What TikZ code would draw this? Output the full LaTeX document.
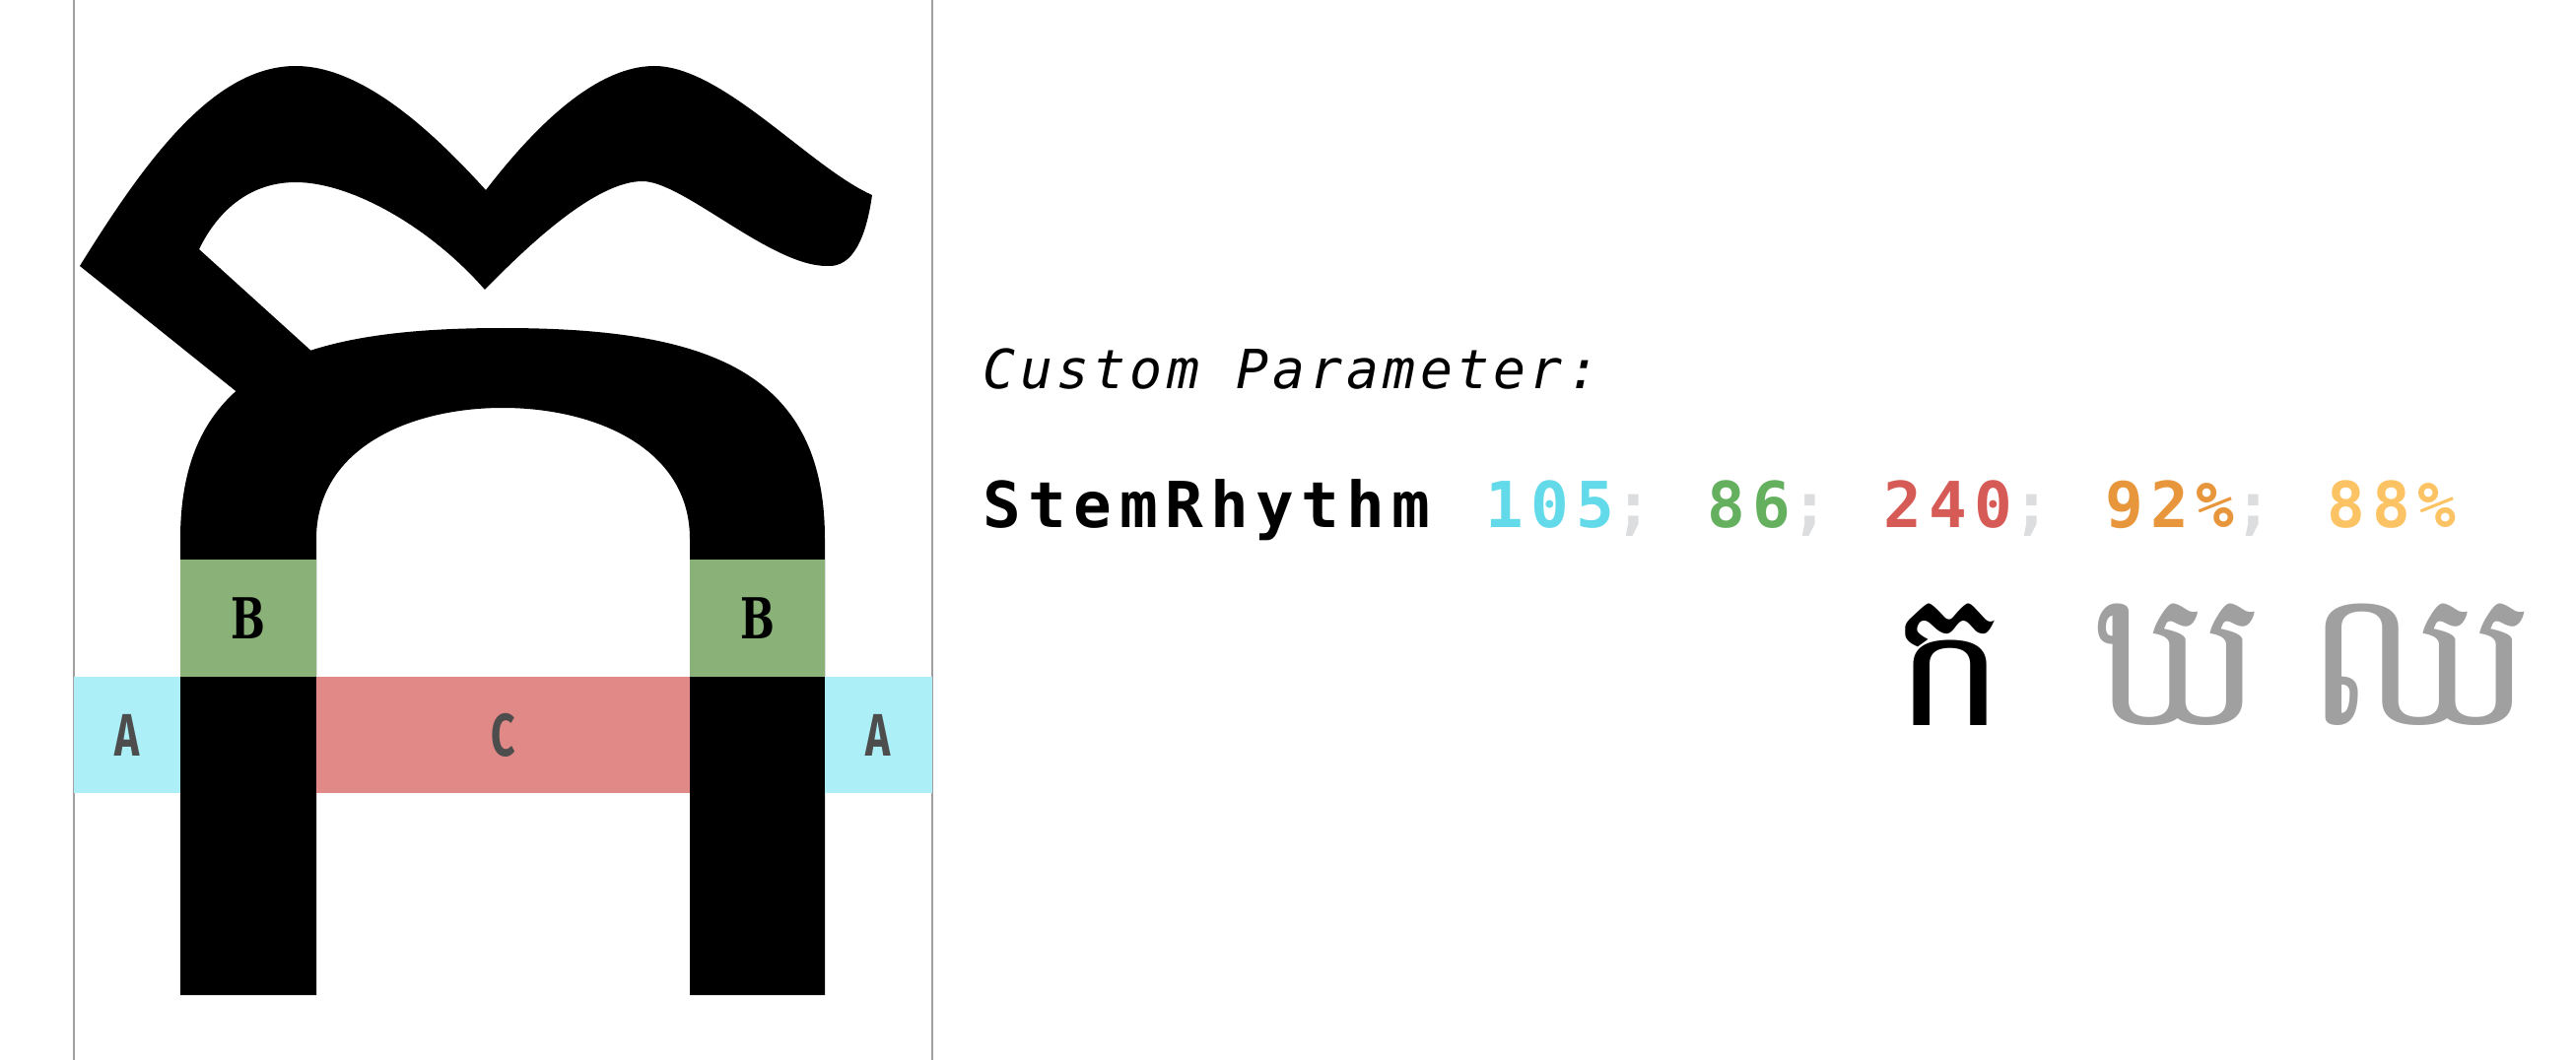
\documentclass[tikz,border=0pt]{standalone}
\usepackage{fontspec}
\newfontfamily\paramfont[LetterSpace=7.8]{DejaVu Sans Mono}
\newfontfamily\valuefont[LetterSpace=11.5,WordSpace={1.2,0,0}]{DejaVu Sans Mono}
\newfontfamily\khmerfont[Script=Khmer]{Battambang}
\newfontfamily\lblsans{Fira Sans}
\newfontfamily\lblslab{DejaVu Serif}
\definecolor{guidegray}{HTML}{A0A0A0}
\definecolor{boxA}{HTML}{ADEFF7}
\definecolor{boxB}{HTML}{8AB178}
\definecolor{boxC}{HTML}{E18987}
\definecolor{lblgray}{HTML}{4D4D4D}
\definecolor{valA}{HTML}{62DAEA}
\definecolor{valB}{HTML}{64B05F}
\definecolor{valC}{HTML}{D65A55}
\definecolor{valD}{HTML}{E8963C}
\definecolor{valE}{HTML}{FCC364}
\definecolor{semigray}{HTML}{DCDDDF}
\newcommand{\sansletter}[1]{\scalebox{0.7}[1]{\lblsans\bfseries\fontsize{17.3}{17}\selectfont #1}}
\newcommand{\slabletter}[1]{\scalebox{0.72}[1]{\lblslab\bfseries\fontsize{16.3}{17}\selectfont #1}}
\newcommand{\semi}{\textcolor{semigray}{;}}
\tikzset{
  guide/.style={guidegray, line width=0.7pt},
  lbl/.style={inner sep=0pt},
  txt/.style={anchor=base west, inner sep=0pt},
  khmer/.style={anchor=base, inner sep=0pt, font=\khmerfont\fontsize{55}{57}\selectfont},
}
\begin{document}
\begin{tikzpicture}[x=0.01cm,y=-0.01cm]
        \useasboundingbox (0,0) rectangle (2614,1076);
        \draw[guide] (75,0) -- (75,1076);
        \draw[guide] (946,0) -- (946,1076);
        \fill (183,1010) -- (183,547) .. controls (183,375) and (305,333) .. (510,333)
              .. controls (715,333) and (837,375) .. (837,547) -- (837,1010) -- (700,1010)
              -- (700,547) .. controls (700,455) and (604,414) .. (510,414)
              .. controls (416,414) and (321,455) .. (321,547) -- (321,1010) -- cycle;
        \fill (319,359) -- (202,253) .. controls (223,210) and (257,185) .. (300,185)
              .. controls (356,185) and (436,230) .. (492,294)
              .. controls (535,250) and (604,184) .. (652,184)
              .. controls (693,184) and (782,270) .. (839,270)
              .. controls (866,272) and (879,240) .. (885,198)
              .. controls (822,170) and (733,67) .. (664,67)
              .. controls (609,67) and (549,120) .. (493,193)
              .. controls (436,130) and (366,67) .. (300,67)
              .. controls (218,67) and (149,160) .. (81,270)
              -- (243,400) -- (297,430) -- cycle;
        \fill[boxB] (183,568) rectangle (321,687);
        \fill[boxB] (700,568) rectangle (837,687);
        \fill[boxA] (75,687) rectangle (183,805);
        \fill[boxA] (837,687) rectangle (946,805);
        \fill[boxC] (321,687) rectangle (700,805);
        \node[lbl] (leftB) at (252,627.5) {\slabletter{B}};
        \node[lbl] (rightB) at (768.5,627.5) {\slabletter{B}};
        \node[lbl, text=lblgray] (leftA) at (129,746) {\sansletter{A}};
        \node[lbl, text=lblgray] (rightA) at (891.5,746) {\sansletter{A}};
        \node[lbl, text=lblgray] (midC) at (510.5,746) {\sansletter{C}};
        \node[txt] (param) at (997,395) {\paramfont\itshape\fontsize{15.6}{18}\selectfont Custom Parameter:};
        \node[txt] (values) at (997,535) {\valuefont\bfseries\fontsize{18.3}{22}\selectfont StemRhythm
              \textcolor{valA}{105}\semi{} \textcolor{valB}{86}\semi{} \textcolor{valC}{240}\semi{}
              \textcolor{valD}{92\%}\semi{} \textcolor{valE}{88\%}};
        \node[khmer] (ka) at (1979,736) {ក};
        \node[khmer, text=guidegray] (kho) at (2210,736) {ឃ};
        \node[khmer, text=guidegray] (chho) at (2455,736) {ឈ};
    \end{tikzpicture}
\end{document}
